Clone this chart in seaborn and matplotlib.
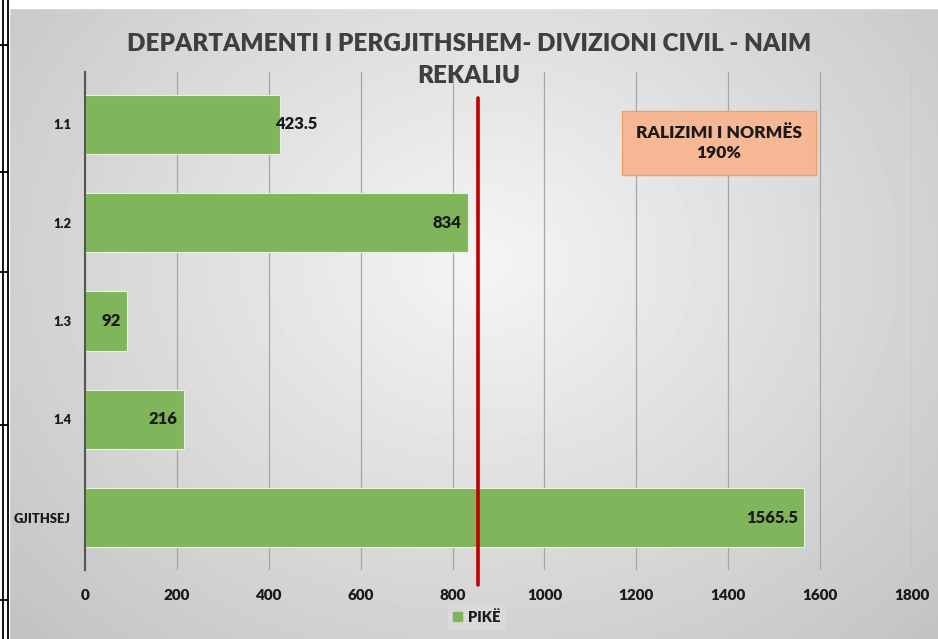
import numpy as np
import pandas as pd
import seaborn as sns
import matplotlib.pyplot as plt
import matplotlib.patches as mpatches
import matplotlib.transforms as mtransforms

# data
categories = ['1.1', '1.2', '1.3', '1.4', 'GJITHSEJ']
points = [423.5, 834, 92, 216, 1565.5]
value_labels = ['423.5', '834', '92', '216', '1565.5']
norm_line = 855
title = 'DEPARTAMENTI I PERGJITHSHEM- DIVIZIONI CIVIL - NAIM\nREKALIU'
note = 'RALIZIMI I NORMËS\n190%'
series_name = 'PIKË'
xticks = [0, 200, 400, 600, 800, 1000, 1200, 1400, 1600, 1800]

GREEN = '#80b55c'
TEXT = '#1a1a1a'

sns.set_theme(style='white')
plt.rcParams['font.family'] = ['Lato', 'DejaVu Sans']

fig = plt.figure(figsize=(9.38, 6.39), dpi=100)

# gradient background of the chart area
bg = fig.add_axes([0, 0, 1, 1], zorder=-10)
yy, xx = np.mgrid[0:639, 0:938]
r = np.sqrt(((xx - 480) / 620.0) ** 2 + ((yy - 260) / 520.0) ** 2)
shade = 0.96 - 0.19 * np.clip(r, 0, 1.2)
bg.imshow(shade, cmap='gray', vmin=0, vmax=1, aspect='auto', extent=[0, 938, 639, 0])
bg.add_patch(mpatches.Rectangle((0, 0), 938, 8, color='white'))
bg.add_patch(mpatches.Rectangle((0, 0), 9, 639, color='white'))
# table border remains at the left edge of the screenshot
bg.plot([2.5, 2.5], [0, 639], color='black', lw=1.3)
bg.plot([8, 8], [0, 639], color='black', lw=1.3)
for yb in [45, 172, 272, 425, 600]:
    bg.plot([0, 8], [yb, yb], color='black', lw=1.3)
bg.set_xlim(0, 938)
bg.set_ylim(639, 0)
bg.axis('off')

ax = fig.add_axes([85 / 938, 1 - 570 / 639, (912 - 85) / 938, (570 - 72) / 639])
ax.set_facecolor('none')

df = pd.DataFrame({'cat': categories, 'val': points})
sns.barplot(data=df, x='val', y='cat', orient='h', color=GREEN, saturation=1,
            width=0.6, edgecolor='#e8f0e0', linewidth=0.8, ax=ax, zorder=2)

ax.set_xlim(0, 1800)
ax.set_xticks(xticks)
ax.set_xticklabels([str(t) for t in xticks])
ax.grid(axis='x', color='#a6a6a6', lw=0.9, zorder=0)
ax.set_axisbelow(True)
for s in ['top', 'right', 'bottom']:
    ax.spines[s].set_visible(False)
ax.spines['left'].set_color('#555555')
ax.spines['left'].set_linewidth(1.5)
ax.spines['left'].set_zorder(3)
ax.tick_params(axis='x', length=0, pad=14, labelsize=11, labelcolor=TEXT)
ax.tick_params(axis='y', length=0, pad=10, labelsize=9.3, labelcolor=TEXT)
for lab in ax.get_xticklabels() + ax.get_yticklabels():
    lab.set_fontweight('heavy')
ax.set_xlabel('')
ax.set_ylabel('')

# value labels
for i, (v, txt) in enumerate(zip(points, value_labels)):
    if 300 < v < 500:
        ax.text(v - 10, i, txt, ha='left', va='center', fontsize=12, fontweight='heavy',
                color=TEXT, zorder=4)
    else:
        ax.text(v - 14, i, txt, ha='right', va='center', fontsize=12, fontweight='heavy',
                color=TEXT, zorder=4)

# norm line
trans = mtransforms.blended_transform_factory(ax.transData, ax.transAxes)
ax.plot([norm_line, norm_line], [0.948, -0.03], transform=trans, color='#c00000',
        lw=2.6, clip_on=False, zorder=5)

# note box
fig.text(719 / 938, 1 - 143 / 639, note, ha='center', va='center', fontsize=12.5,
         fontweight='heavy', color=TEXT, linespacing=1.35,
         bbox=dict(boxstyle='square,pad=0.8', facecolor='#f6b894', edgecolor='#f0a060', lw=1))

# title
fig.text(0.5, 1 - 60 / 639, title, ha='center', va='center', fontsize=17.5,
         fontweight='heavy', color='#3f3f3f', linespacing=1.55)

# legend
handle = mpatches.Patch(color=GREEN, label=series_name)
leg = fig.legend(handles=[handle], loc='center', bbox_to_anchor=(477 / 938, 1 - 617 / 639),
                 frameon=True, fontsize=10.5, handlelength=0.6, handleheight=0.6,
                 handletextpad=0.4, borderpad=0.4)
leg.get_frame().set_facecolor('#dcdcdc')
leg.get_frame().set_edgecolor('none')
for t in leg.get_texts():
    t.set_fontweight('heavy')
    t.set_color(TEXT)

fig.savefig('out.png', dpi=100)
